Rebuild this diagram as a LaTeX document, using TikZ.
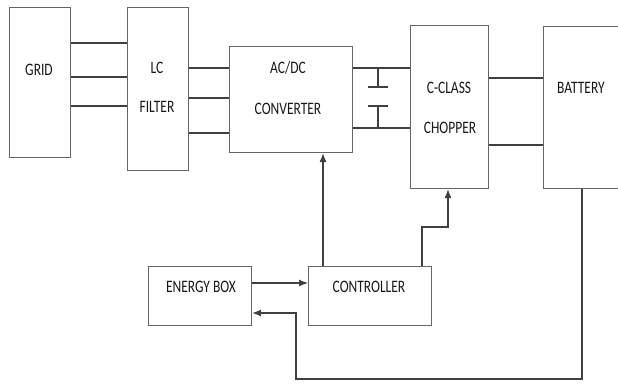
\documentclass[tikz,border=0pt]{standalone}
\usepackage{fontspec}
\setmainfont{Carlito}[FakeStretch=0.77]
\usetikzlibrary{arrows.meta}
\tikzset{
  blk/.style={draw=black!60, line width=1.1pt, rectangle, anchor=north west, inner sep=0pt},
  lbl/.style={font=\fontsize{17.5}{20}\selectfont, text=black!90, inner sep=0pt},
  wire/.style={draw=black!75, line width=1.1pt},
  arr/.style={wire, -{Latex[length=9pt,width=7pt]}}
}
\begin{document}
\begin{tikzpicture}[x=1pt,y=-1pt]
\clip (0,0) rectangle (618,383);
\fill[white] (0,0) rectangle (618,383);
% boxes
\node[blk, minimum width=61pt, minimum height=150pt] (grid) at (9,7) {};
\node[blk, minimum width=61pt, minimum height=163pt] (lc) at (127,7) {};
\node[blk, minimum width=123pt, minimum height=106pt] (acdc) at (229,46) {};
\node[blk, minimum width=78pt, minimum height=163pt] (chop) at (410,25) {};
\node[blk, minimum width=90pt, minimum height=162pt] (bat) at (543,26) {};
\node[blk, minimum width=103pt, minimum height=59pt] (ebox) at (148,266) {};
\node[blk, minimum width=123pt, minimum height=59pt] (ctrl) at (308,266) {};
% labels
\node[lbl] (tgrid) at (39,70) {GRID};
\node[lbl] (tlc) at (157,68) {LC};
\node[lbl] (tfil) at (157,107) {FILTER};
\node[lbl] (tac) at (288,68) {AC/DC};
\node[lbl] (tconv) at (288,109) {CONVERTER};
\node[lbl] (tcc) at (449,88) {C-CLASS};
\node[lbl] (tchop) at (450,128) {CHOPPER};
\node[lbl] (tbat) at (581,88) {BATTERY};
\node[lbl] (teb) at (201,287) {ENERGY BOX};
\node[lbl] (tctrl) at (369,287) {CONTROLLER};
% grid - lc
\foreach \yy in {43,77,106} \draw[wire] (grid.east |- 0,\yy) -- (lc.west |- 0,\yy);
% lc - acdc
\foreach \yy in {68,98,133} \draw[wire] (lc.east |- 0,\yy) -- (acdc.west |- 0,\yy);
% acdc - chopper with capacitor
\draw[wire] (acdc.east |- 0,68) -- (chop.west |- 0,68);
\draw[wire] (acdc.east |- 0,128) -- (chop.west |- 0,128);
\coordinate (c1) at (378,68);
\coordinate (c2) at (378,87);
\coordinate (c3) at (378,106);
\coordinate (c4) at (378,128);
\draw[wire] (c1) -- (c2);
\draw[wire] (c3) -- (c4);
\draw[wire] ([xshift=-10pt]c2) -- ([xshift=10pt]c2);
\draw[wire] ([xshift=-10pt]c3) -- ([xshift=10pt]c3);
% chopper - battery
\draw[wire] (chop.east |- 0,78) -- (bat.west |- 0,78);
\draw[wire] (chop.east |- 0,145) -- (bat.west |- 0,145);
% energy box -> controller
\draw[arr] (ebox.east |- 0,283) -- (ctrl.west |- 0,283);
% controller -> acdc
\draw[arr] (ctrl.north -| 323,0) -- (acdc.south -| 323,0);
% controller -> chopper
\draw[arr] (ctrl.north -| 422,0) |- (435,227) -| (chop.south -| 448,0);
% battery -> energy box
\draw[arr] (bat.south -| 582,0) |- (296,379) |- (ebox.east |- 0,313);
\end{tikzpicture}
\end{document}
